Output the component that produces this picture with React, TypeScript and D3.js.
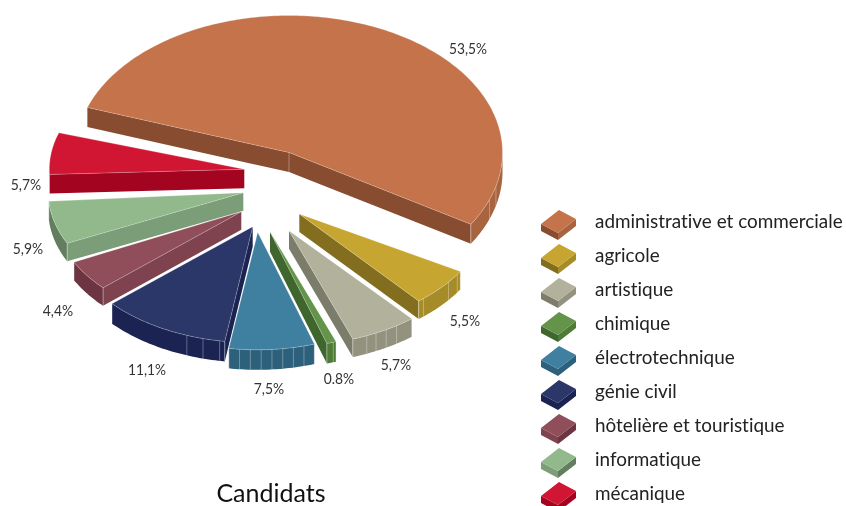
import React from "react";
import * as d3 from "d3";

const categories = ["administrative et commerciale","agricole","artistique","chimique","électrotechnique","génie civil","hôtelière et touristique","informatique","mécanique"];
const shares = [53.5,5.5,5.7,0.8,7.5,11.1,4.4,5.9,5.7];
const shareLabels = ["53,5%","5,5%","5,7%","0.8%","7,5%","11,1%","4,4%","5,9%","5,7%"];

const topColors = ["#c4734a","#c6a531","#b2b19b","#63944a","#3f7f9f","#2c3769","#904e5b","#91b98c","#d01632"];
const wallColors = ["#884c30","#836e1f","#7c7c6a","#3f662d","#2c607b","#1a2352","#7f4350","#7b9d78","#a30420"];
const rimColors = ["#a8633f","#a68c28","#93927e","#4e7b36","#2c607b","#1a2352","#6d3441","#627e5e","#a30420"];

const apexX = [289,299.3,289,270,257.7,252.7,241.3,243.3,244.3];
const apexY = [152.5,214,230.7,231.7,232.3,226.7,211.7,192.7,169.3];
const radiusX = [213.5,187,191,193,184,188,187,195,195];
const radiusY = [137,113,115,117,117.5,116,113,118,118];
const rotation = [0.2,-0.85,-1.2,-1.7,-2.5,-3,-3.8,-2.7,-1];
const depths = [19.5,18,18,20,20,20,18,18,19];
const facetFractions: number[][] = [[0.91,0.94],[0.09,0.33,0.9],[0.28,0.46,0.63,0.78],[0.3],[0.125,0.25,0.375,0.5,0.625,0.75,0.875],[0.04,0.17,0.3],[],[],[]];
const drawOrder = [0,6,7,8,5,4,3,2,1];

const labelX = [468,465,396,339,269,147,58,28,26];
const labelY = [47,319,363,377,387,368,309,247,183];

const legendX = 595;
const legendY = 221;
const legendStep = 34;

const FONT = "Lato, 'Noto Sans', sans-serif";
const rad = (d: number) => (d * Math.PI) / 180;

const arcs = d3.pie<number>().sort(null).startAngle(rad(-71)).endAngle(rad(289))(shares);
const line = d3.line<[number, number]>();

export default function App() {
  const slices = drawOrder.map((i) => {
    const a = arcs[i];
    const t0 = (a.startAngle * 180) / Math.PI;
    const t1 = (a.endAngle * 180) / Math.PI;
    const ax = apexX[i], ay = apexY[i], d = depths[i];
    const pt = (t: number): [number, number] => [
      ax + radiusX[i] * Math.sin(rad(t + rotation[i])),
      ay - radiusY[i] * Math.cos(rad(t + rotation[i])),
    ];
    const down = (p: [number, number]): [number, number] => [p[0], p[1] + d];
    const sample = (u0: number, u1: number) => {
      const n = Math.max(2, Math.ceil(Math.abs(u1 - u0)));
      return d3.range(n + 1).map((k) => pt(u0 + ((u1 - u0) * k) / n));
    };
    const top = [[ax, ay] as [number, number], ...sample(t0, t1)];
    const faces: React.ReactNode[] = [];
    const tn0 = ((t0 % 360) + 360) % 360;
    const tn1 = ((t1 % 360) + 360) % 360;
    const wall = (t: number, key: string, fill: string) => {
      const p = pt(t);
      return <path key={key} d={line([[ax, ay], p, down(p), [ax, ay + d]])! + "Z"} fill={fill} />;
    };
    if (tn0 > 180) faces.push(wall(t0, "s", wallColors[i]));
    if (tn1 < 180) faces.push(wall(t1, "e", wallColors[i]));
    const r0 = Math.max(tn0 > 270 ? tn0 - 360 : tn0, 90 - rotation[i]);
    const r1 = Math.min(tn0 > 270 ? tn1 : t1, 270 - rotation[i]);
    if (r1 > r0) {
      const edge = sample(r0, r1);
      faces.push(<path key="r" d={line([...edge, ...edge.slice().reverse().map(down)])! + "Z"} fill={rimColors[i]} />);
      facetFractions[i].forEach((f, k) => {
        const p = pt(t0 + (t1 - t0) * f);
        const q = down(p);
        faces.push(<line key={"f" + k} x1={p[0]} y1={p[1]} x2={q[0]} y2={q[1]} stroke="#fff" strokeOpacity={0.4} strokeWidth={0.8} />);
      });
    }
    const corners = [t0, t1].filter((t) => {
      const n = ((t % 360) + 360) % 360;
      return n > 90 && n < 270;
    });
    corners.forEach((t, k) => {
      const p = pt(t);
      faces.push(<line key={"c" + k} x1={p[0]} y1={p[1]} x2={p[0]} y2={p[1] + d} stroke="#fff" strokeOpacity={0.5} strokeWidth={0.8} />);
    });
    if (i === 0) faces.push(<line key="ax" x1={ax} y1={ay} x2={ax} y2={ay + d} stroke="#fff" strokeOpacity={0.4} strokeWidth={0.8} />);
    return (
      <g key={i}>
        {faces}
        <path d={line(top)! + "Z"} fill={topColors[i]} stroke="#fff" strokeOpacity={0.4} strokeWidth={0.6} />
      </g>
    );
  });

  return (
    <svg width={846} height={506} style={{ position: "fixed", left: 0, top: 0, display: "block", fontVariantLigatures: "none" }} fontFamily={FONT}>
      {slices}
      {shareLabels.map((s, i) => (
        <text key={s + i} x={labelX[i]} y={labelY[i]} textAnchor="middle" dominantBaseline="central" fontSize={16} fill="#333" textLength={s.length * 7.6} lengthAdjust="spacingAndGlyphs">{s}</text>
      ))}
      {categories.map((c, i) => {
        const cy = legendY + i * legendStep;
        const dd = 7;
        const T: [number, number] = [559, cy - 11];
        const R: [number, number] = [576, cy - 2];
        const B: [number, number] = [558, cy + 12];
        const L: [number, number] = [541, cy + 3];
        const dn = (p: [number, number]): [number, number] => [p[0], p[1] + dd];
        return (
          <g key={c}>
            <path d={line([L, B, dn(B), dn(L)])! + "Z"} fill={wallColors[i]} />
            <path d={line([B, R, dn(R), dn(B)])! + "Z"} fill={rimColors[i]} />
            <path d={line([T, R, B, L])! + "Z"} fill={topColors[i]} />
            <text x={legendX} y={cy - 0.5} dominantBaseline="central" fontSize={18.9} fill="#222">{c}</text>
          </g>
        );
      })}
      <text x={271} y={492} textAnchor="middle" dominantBaseline="central" fontSize={25} fill="#111">Candidats</text>
    </svg>
  );
}
